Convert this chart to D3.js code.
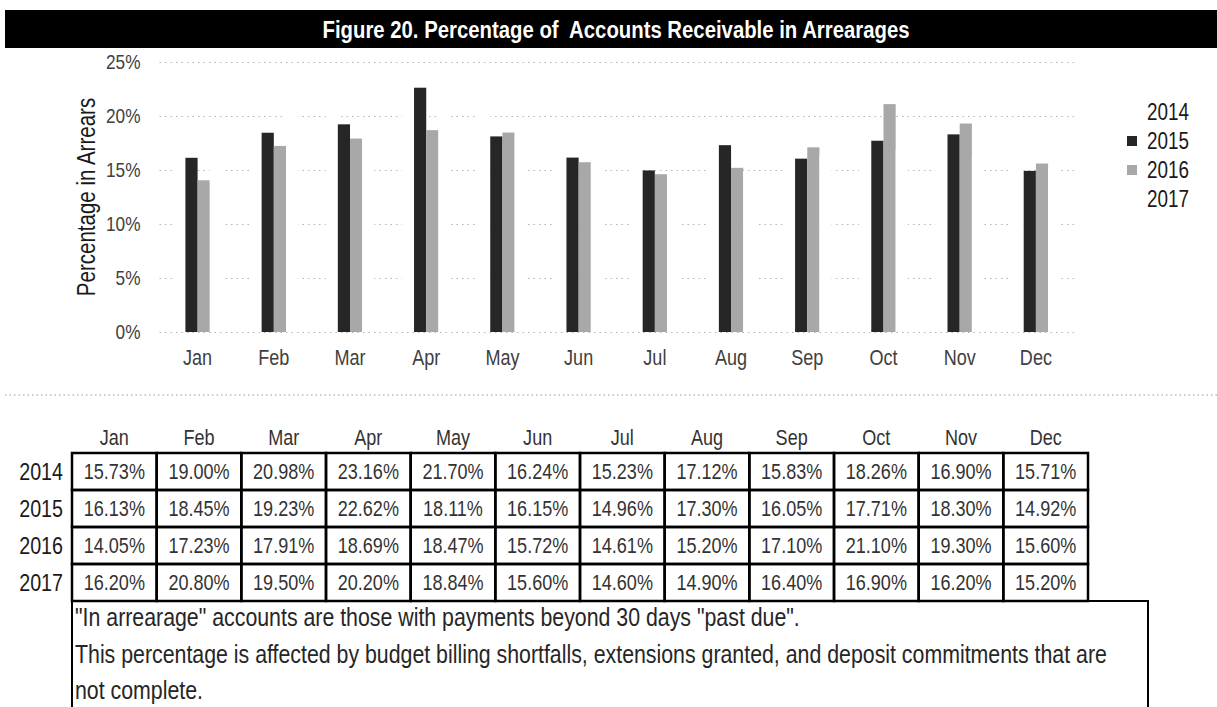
<!DOCTYPE html>
<html>
<head>
<meta charset="utf-8">
<script src="https://cdn.jsdelivr.net/npm/d3@7"></script>
<style>
  body { margin: 0; background: #fff; }
  svg text { font-family: 'Liberation Sans Narrow', 'Arial Narrow', 'Liberation Sans', sans-serif; }
</style>
</head>
<body>
<div id="chart"></div>
<script>
// data
const months = ["Jan", "Feb", "Mar", "Apr", "May", "Jun", "Jul", "Aug", "Sep", "Oct", "Nov", "Dec"];
const years = ["2014", "2015", "2016", "2017"];
const v2014 = [15.73, 19.00, 20.98, 23.16, 21.70, 16.24, 15.23, 17.12, 15.83, 18.26, 16.90, 15.71];
const v2015 = [16.13, 18.45, 19.23, 22.62, 18.11, 16.15, 14.96, 17.30, 16.05, 17.71, 18.30, 14.92];
const v2016 = [14.05, 17.23, 17.91, 18.69, 18.47, 15.72, 14.61, 15.20, 17.10, 21.10, 19.30, 15.60];
const v2017 = [16.20, 20.80, 19.50, 20.20, 18.84, 15.60, 14.60, 14.90, 16.40, 16.90, 16.20, 15.20];
const yTicks = [0, 5, 10, 15, 20, 25];
const title = "Figure 20. Percentage of  Accounts Receivable in Arrearages";
const noteLines = [
  "\"In arrearage\" accounts are those with payments beyond 30 days \"past due\".",
  "This percentage is affected by budget billing shortfalls, extensions granted, and deposit commitments that are",
  "not complete."
];

const series = { "2014": v2014, "2015": v2015, "2016": v2016, "2017": v2017 };
const colors = { "2014": "#ffffff", "2015": "#262626", "2016": "#a8a8a8", "2017": "#ffffff" };

const width = 1217, height = 707;
const plot = { left: 159.5, right: 1074, top: 62, bottom: 332 };

const svg = d3.select("#chart")
  .append("svg")
  .attr("width", width)
  .attr("height", height);

// title bar
svg.append("rect")
  .attr("x", 5).attr("y", 10)
  .attr("width", width - 5).attr("height", 38)
  .attr("fill", "#000");

svg.append("text")
  .attr("x", 616).attr("y", 38)
  .attr("text-anchor", "middle")
  .attr("fill", "#fff")
  .attr("font-size", 23)
  .attr("font-weight", "bold")
  .attr("textLength", 587)
  .attr("lengthAdjust", "spacingAndGlyphs")
  .style("white-space", "pre")
  .text(title);

// scales
const x0 = d3.scaleBand()
  .domain(months)
  .range([plot.left, plot.right])
  .paddingInner(0.36)
  .paddingOuter(0.18);

const x1 = d3.scaleBand()
  .domain(years)
  .range([0, x0.bandwidth()]);

const y = d3.scaleLinear()
  .domain([0, 25])
  .range([plot.bottom, plot.top]);

// y axis + dotted gridlines
const yAxis = svg.append("g")
  .attr("transform", `translate(${plot.left},0)`)
  .call(d3.axisLeft(y)
    .tickValues(yTicks)
    .tickFormat(d => d + "%")
    .tickSize(-(plot.right - plot.left))
    .tickPadding(19));
yAxis.select(".domain").remove();
yAxis.selectAll("line")
  .attr("stroke", "#b5b5b5")
  .attr("stroke-dasharray", "1.5,4");
yAxis.selectAll("text")
  .attr("fill", "#404040")
  .attr("font-size", 21);

// bars
const groups = svg.append("g")
  .selectAll("g")
  .data(months)
  .enter()
  .append("g")
  .attr("transform", d => `translate(${x0(d)},0)`);

groups.selectAll("rect")
  .data((m, i) => years.map(yr => ({ year: yr, value: series[yr][i] })))
  .enter()
  .append("rect")
  .attr("x", d => x1(d.year))
  .attr("y", d => y(d.value))
  .attr("width", x1.bandwidth())
  .attr("height", d => y(0) - y(d.value))
  .attr("fill", d => colors[d.year]);

// x axis labels
const xAxis = svg.append("g")
  .attr("transform", `translate(0,${plot.bottom})`)
  .call(d3.axisBottom(x0).tickSize(0).tickPadding(17));
xAxis.select(".domain").remove();
xAxis.selectAll("text")
  .attr("fill", "#404040")
  .attr("font-size", 22);

// axis title
svg.append("text")
  .attr("transform", `translate(95,${(plot.top + plot.bottom) / 2}) rotate(-90)`)
  .attr("text-anchor", "middle")
  .attr("fill", "#1a1a1a")
  .attr("font-size", 25)
  .text("Percentage in Arrears");

// legend
const legend = svg.append("g")
  .selectAll("g")
  .data(years)
  .enter()
  .append("g")
  .attr("transform", (d, i) => `translate(1127,${112 + i * 29})`);

legend.append("rect")
  .attr("x", 0).attr("y", -5)
  .attr("width", 10).attr("height", 10)
  .attr("fill", d => colors[d]);

legend.append("text")
  .attr("x", 20)
  .attr("dy", "0.36em")
  .attr("fill", "#1a1a1a")
  .attr("font-size", 23)
  .text(d => d);

// chart area bottom border
svg.append("line")
  .attr("x1", 5).attr("x2", width)
  .attr("y1", 395).attr("y2", 395)
  .attr("stroke", "#9a9a9a")
  .attr("stroke-dasharray", "1.5,3");

// data table
const table = { left: 72, top: 453, rowH: 37 };
const colW = (1088 - table.left) / months.length;
const tx = d3.scaleBand().domain(months).range([table.left, table.left + colW * months.length]);
const ty = d3.scaleBand().domain(years).range([table.top, table.top + table.rowH * years.length]);

svg.append("g")
  .selectAll("text")
  .data(months)
  .enter()
  .append("text")
  .attr("x", d => tx(d) + colW / 2)
  .attr("y", 437)
  .attr("dy", "0.36em")
  .attr("text-anchor", "middle")
  .attr("fill", "#333")
  .attr("font-size", 22)
  .text(d => d);

const rows = svg.append("g")
  .selectAll("g")
  .data(years)
  .enter()
  .append("g")
  .attr("transform", d => `translate(0,${ty(d)})`);

rows.append("text")
  .attr("x", 63)
  .attr("y", table.rowH / 2)
  .attr("dy", "0.36em")
  .attr("text-anchor", "end")
  .attr("fill", "#1a1a1a")
  .attr("font-size", 24)
  .text(d => d);

rows.selectAll("rect")
  .data(yr => months.map((m, i) => ({ m: m, v: series[yr][i] })))
  .enter()
  .append("rect")
  .attr("x", d => tx(d.m))
  .attr("y", 0)
  .attr("width", colW)
  .attr("height", table.rowH)
  .attr("fill", "none")
  .attr("stroke", "#000")
  .attr("stroke-width", 2.5);

rows.selectAll(".cell")
  .data(yr => months.map((m, i) => ({ m: m, v: series[yr][i] })))
  .enter()
  .append("text")
  .attr("class", "cell")
  .attr("x", d => tx(d.m) + colW / 2)
  .attr("y", table.rowH / 2)
  .attr("dy", "0.36em")
  .attr("text-anchor", "middle")
  .attr("fill", "#333")
  .attr("font-size", 22)
  .text(d => d.v.toFixed(2) + "%");

// note box
const noteTop = table.top + table.rowH * years.length;
svg.append("rect")
  .attr("x", table.left).attr("y", noteTop)
  .attr("width", 1148 - table.left).attr("height", 120)
  .attr("fill", "none")
  .attr("stroke", "#000")
  .attr("stroke-width", 2);

svg.append("g")
  .selectAll("text")
  .data(noteLines)
  .enter()
  .append("text")
  .attr("x", 75)
  .attr("y", (d, i) => 617 + i * 36.5)
  .attr("dy", "0.36em")
  .attr("fill", "#262626")
  .attr("font-size", 26)
  .text(d => d);

// no narrow font installed: squeeze the regular face to narrow widths
svg.selectAll("text").each(function () {
  if (this.hasAttribute("textLength")) return;
  const w = this.getComputedTextLength();
  d3.select(this)
    .attr("textLength", w * 0.82)
    .attr("lengthAdjust", "spacingAndGlyphs");
});
</script>
</body>
</html>
